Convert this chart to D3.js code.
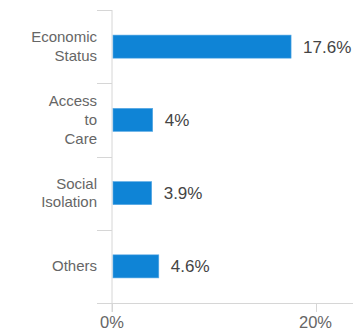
<!DOCTYPE html>
<html>
<head>
<meta charset="utf-8">
<script src="https://cdn.jsdelivr.net/npm/d3@7"></script>
<style>
  html, body { margin: 0; padding: 0; background: #fff; }
  svg { display: block; font-family: Arial, "Liberation Sans", sans-serif; }
</style>
</head>
<body>
<svg id="chart" width="353" height="332"></svg>
<script>
// data
const categories = ["Economic Status", "Access to Care", "Social Isolation", "Others"];
const categoryLines = [["Economic", "Status"], ["Access", "to", "Care"], ["Social", "Isolation"], ["Others"]];
const values = [17.6, 4, 3.9, 4.6];
const tickValues = [0, 20];
const tickLabels = ["0%", "20%"];

const svg = d3.select("#chart");
const W = 353;

let x = d3.scaleLinear().domain([0, 20]).range([112, 315.5]);
let y = d3.scaleBand().domain(categories).range([10, 303]).paddingInner(0.685).paddingOuter(0.3425);

const grid = "#d6d6d6";

// vertical axis line
svg.append("line")
    .attr("x1", x(0)).attr("x2", x(0))
    .attr("y1", 10).attr("y2", 312)
    .attr("stroke", grid).attr("stroke-width", 1);

// category boundary ticks
let bounds = categories.map(c => y(c) - y.step() * y.paddingInner() / 2);
bounds.forEach(b => {
    svg.append("line")
        .attr("x1", 97).attr("x2", x(0))
        .attr("y1", Math.round(b) + 0.5).attr("y2", Math.round(b) + 0.5)
        .attr("stroke", grid);
});

// baseline
svg.append("line")
    .attr("x1", 97).attr("x2", W)
    .attr("y1", 303.5).attr("y2", 303.5)
    .attr("stroke", grid);

// x ticks + labels
tickValues.forEach((t, i) => {
    svg.append("line")
        .attr("x1", Math.round(x(t)) + 0.5).attr("x2", Math.round(x(t)) + 0.5)
        .attr("y1", 303).attr("y2", 312)
        .attr("stroke", grid);
    svg.append("text")
        .attr("x", x(t)).attr("y", 327.5)
        .attr("text-anchor", "middle")
        .attr("font-size", 16.5)
        .attr("fill", "#666")
        .text(tickLabels[i]);
});

// bars
svg.selectAll("rect.bar")
    .data(values)
    .enter()
    .append("rect")
    .attr("class", "bar")
    .attr("x", x(0) + 1)
    .attr("y", (d, i) => y(categories[i]))
    .attr("width", d => x(d) - x(0) - 1)
    .attr("height", y.bandwidth())
    .attr("fill", "#0f84d6")
    .attr("stroke", "#5aaae4")
    .attr("stroke-width", 0.6);

// value labels
svg.selectAll("text.val")
    .data(values)
    .enter()
    .append("text")
    .attr("class", "val")
    .attr("x", d => x(d) + 12)
    .attr("y", (d, i) => y(categories[i]) + y.bandwidth() / 2 + 6)
    .attr("font-size", 17)
    .attr("fill", "#444")
    .text(d => d + "%");

// category labels
const lh = 18.7;
categoryLines.forEach((lines, i) => {
    let cy = y(categories[i]) + y.bandwidth() / 2;
    let t = svg.append("text")
        .attr("text-anchor", "end")
        .attr("font-size", 15)
        .attr("fill", "#666");
    lines.forEach((ln, j) => {
        t.append("tspan")
            .attr("x", 97)
            .attr("y", cy + (j - (lines.length - 1) / 2) * lh + 5)
            .text(ln);
    });
});
</script>
</body>
</html>
